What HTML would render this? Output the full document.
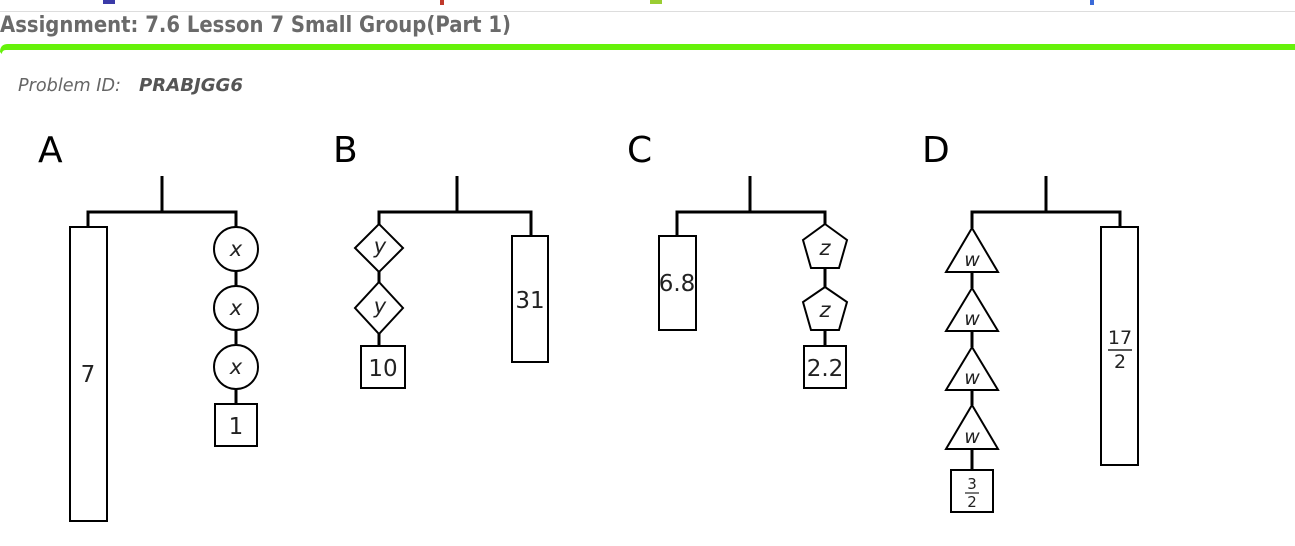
<!DOCTYPE html>
<html><head><meta charset="utf-8"><style>
html,body{margin:0;padding:0;background:#fff;width:1295px;height:546px;overflow:hidden}
svg{display:block}
</style></head><body>
<svg width="1295" height="546" viewBox="0 0 1295 546" xmlns="http://www.w3.org/2000/svg">
<rect x="103" y="0" width="12" height="4" fill="#3a3aa8"/>
<rect x="440" y="0" width="4" height="5" fill="#c0392b"/>
<rect x="650" y="0" width="12" height="4" fill="#9acd32"/>
<rect x="1090" y="0" width="4" height="5" fill="#3a6ad8"/>
<line x1="0" y1="11.5" x2="1295" y2="11.5" stroke="#ddd" stroke-width="1"/>
<text x="0" y="32" font-family="'DejaVu Sans','Liberation Sans',sans-serif" font-weight="bold" font-size="22" fill="#6a6a6a" textLength="511" lengthAdjust="spacingAndGlyphs">Assignment: 7.6 Lesson 7 Small Group(Part 1)</text>
<path d="M0 52 Q0 44 8 44 L1295 44 L1295 50 L6 50 Q2 50 2 54 Z" fill="#66f20a"/>
<text x="18" y="91" font-family="'DejaVu Sans','Liberation Sans',sans-serif" font-style="italic" font-size="18" fill="#666" textLength="103" lengthAdjust="spacingAndGlyphs">Problem ID:</text>
<text x="139" y="91" font-family="'DejaVu Sans','Liberation Sans',sans-serif" font-style="italic" font-weight="bold" font-size="18" fill="#555" textLength="104" lengthAdjust="spacingAndGlyphs">PRABJGG6</text>
<g font-family="'DejaVu Sans','Liberation Sans',sans-serif" fill="#000" font-size="36">
<text x="38" y="162">A</text><text x="333" y="162">B</text><text x="627" y="162">C</text><text x="922" y="162">D</text>
</g>
<g fill="none" stroke="#000" stroke-width="3">
<path d="M162 176V212 M88 227V212H236V227"/>
<rect x="70" y="227" width="37" height="294" stroke-width="2"/>
<path d="M236 271V286 M236 330V344 M236 389V404"/>
<path d="M457 176V212 M379 224V212H531V236"/>
<path d="M379 272V282 M379 334V346"/>
<rect x="512" y="236" width="36" height="126" stroke-width="2"/>
<path d="M750 176V212 M677 236V212H825V224"/>
<path d="M825 268V287 M825 330V346"/>
<rect x="659" y="236" width="37" height="94" stroke-width="2"/>
<path d="M1046 176V212 M972 228V212H1120V227"/>
<path d="M972 272V288 M972 331V347 M972 390V405 M972 449V470"/>
<rect x="1101" y="227" width="37" height="238" stroke-width="2"/>
</g>
<g fill="#fff" stroke="#000" stroke-width="2">
<circle cx="236" cy="249" r="22"/><circle cx="236" cy="308" r="22"/><circle cx="236" cy="367" r="22"/>
<rect x="215" y="404" width="42" height="42"/>
<polygon points="379,224 403,248 379,272 355,248"/>
<polygon points="379,282 403,308 379,334 355,308"/>
<rect x="361" y="346" width="44" height="42"/>
<polygon points="825,224 847,240 839,268 811,268 803,240"/>
<polygon points="825,287 847,302 839,330 811,330 803,302"/>
<rect x="804" y="346" width="42" height="42"/>
<polygon points="972,228 998,272 946,272"/>
<polygon points="972,288 998,331 946,331"/>
<polygon points="972,347 998,390 946,390"/>
<polygon points="972,405 998,449 946,449"/>
<rect x="951" y="470" width="42" height="42"/>
</g>
<g font-family="'DejaVu Sans','Liberation Sans',sans-serif" font-size="23" fill="#222" text-anchor="middle">
<text x="88" y="382">7</text>
<text x="236" y="434">1</text>
<text x="383" y="376">10</text>
<text x="530" y="308">31</text>
<text x="677" y="291">6.8</text>
<text x="825" y="376">2.2</text>
<g font-style="italic" font-size="21">
<text x="236" y="256">x</text><text x="236" y="315">x</text><text x="236" y="374">x</text>
<text x="380" y="253">y</text><text x="380" y="313">y</text>
<text x="825" y="255">z</text><text x="825" y="317">z</text>
<text x="972" y="266" font-size="19">w</text><text x="972" y="325" font-size="19">w</text><text x="972" y="384" font-size="19">w</text><text x="972" y="443" font-size="19">w</text>
</g>
<text x="1120" y="344" font-size="19">17</text>
<line x1="1108" y1="350" x2="1132" y2="350" stroke="#222" stroke-width="1.5"/>
<text x="1120" y="368" font-size="19">2</text>
<text x="972" y="489" font-size="15">3</text>
<line x1="965" y1="493" x2="979" y2="493" stroke="#222" stroke-width="1.2"/>
<text x="972" y="507" font-size="15">2</text>
</g>
</svg>
</body></html>
